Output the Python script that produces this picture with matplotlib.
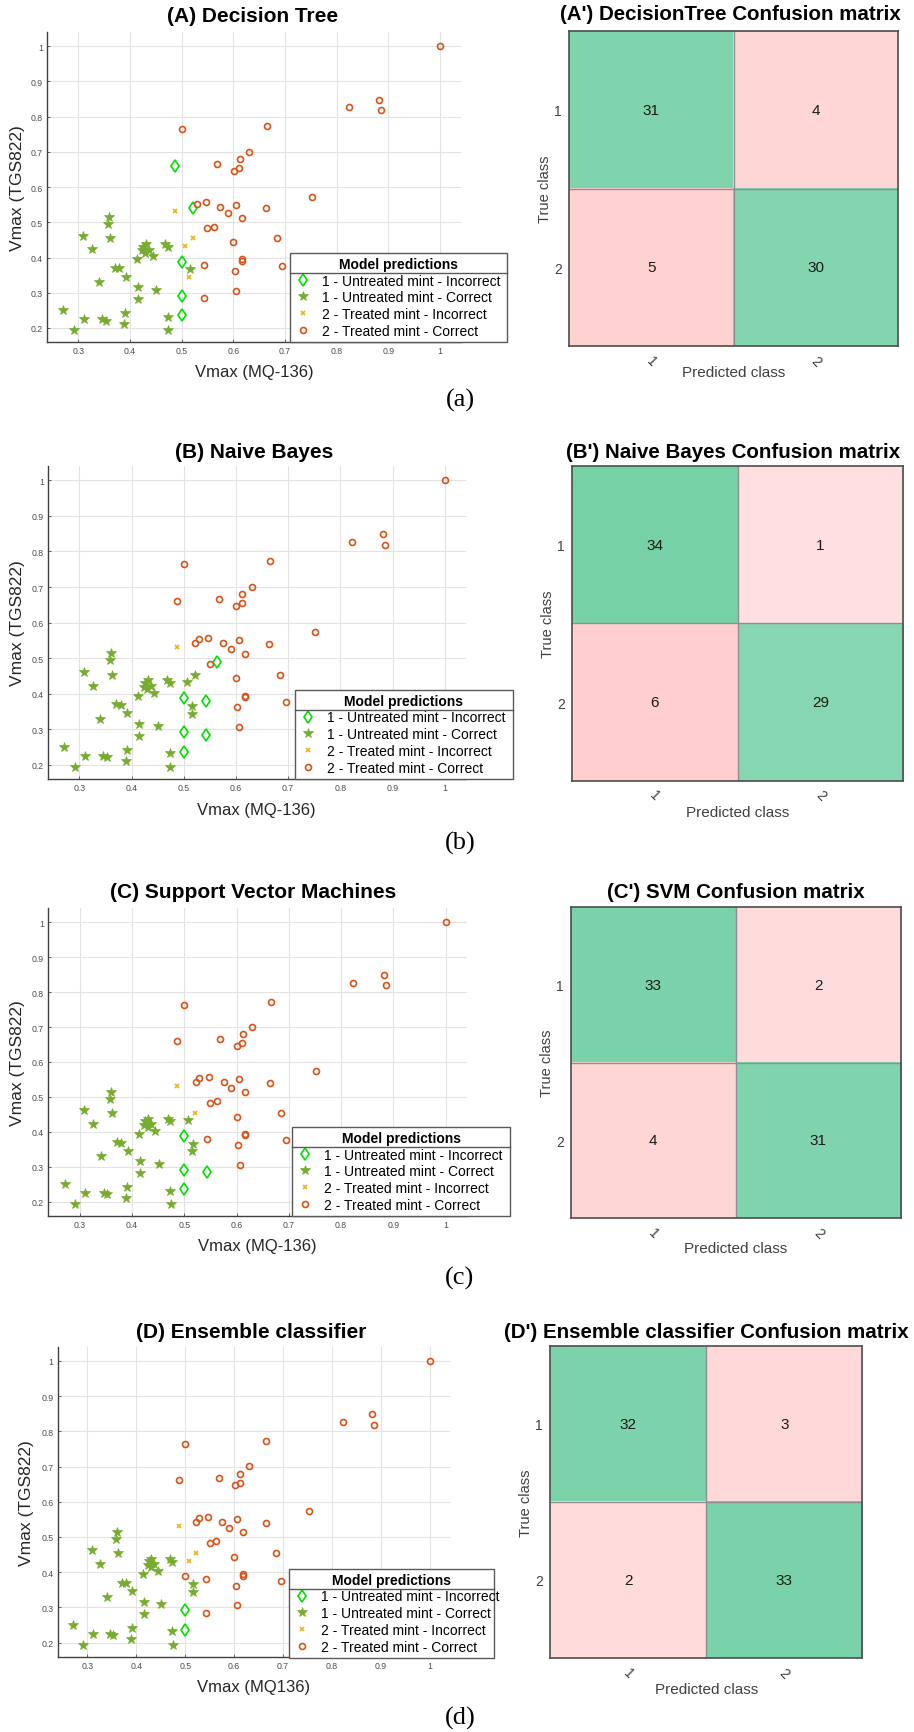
import numpy as np
import matplotlib
matplotlib.use("Agg")
import matplotlib.pyplot as plt
from matplotlib.lines import Line2D
from matplotlib.transforms import IdentityTransform

plt.rcParams['font.family'] = ['Liberation Sans', 'DejaVu Sans']

# ---------------- data ----------------
# class 1 : untreated mint (true class 1)
x_untreated = [0.360, 0.358, 0.362, 0.309, 0.326, 0.425, 0.431, 0.423, 0.430, 0.437,
               0.444, 0.413, 0.468, 0.473, 0.371, 0.379, 0.392, 0.340, 0.415, 0.451,
               0.415, 0.516, 0.271, 0.311, 0.346, 0.353, 0.391, 0.389, 0.291, 0.473,
               0.474, 0.487, 0.521, 0.507, 0.515]
y_untreated = [0.514, 0.494, 0.454, 0.462, 0.423, 0.431, 0.438, 0.420, 0.414, 0.422,
               0.403, 0.395, 0.438, 0.430, 0.370, 0.369, 0.345, 0.330, 0.316, 0.309,
               0.281, 0.366, 0.250, 0.224, 0.224, 0.221, 0.241, 0.211, 0.194, 0.232,
               0.193, 0.531, 0.454, 0.433, 0.344]
# class 2 : treated mint (true class 2)
x_treated = [1.000, 0.881, 0.823, 0.886, 0.665, 0.500, 0.630, 0.568, 0.612, 0.601,
             0.611, 0.752, 0.529, 0.547, 0.575, 0.605, 0.664, 0.590, 0.617, 0.550,
             0.563, 0.600, 0.685, 0.617, 0.617, 0.543, 0.695, 0.603, 0.606, 0.543,
             0.487, 0.522, 0.500, 0.500, 0.500]
y_treated = [1.000, 0.848, 0.827, 0.819, 0.773, 0.764, 0.701, 0.667, 0.680, 0.647,
             0.654, 0.573, 0.553, 0.558, 0.543, 0.550, 0.540, 0.526, 0.513, 0.484,
             0.488, 0.443, 0.454, 0.395, 0.390, 0.380, 0.376, 0.362, 0.306, 0.285,
             0.661, 0.542, 0.388, 0.292, 0.236]

# misclassified points (1-based point numbers in the lists above)
dt_untreated_wrong = [32, 33, 34, 35]
dt_treated_wrong = [31, 32, 33, 34, 35]
nb_untreated_wrong = [32]
nb_treated_wrong = [21, 26, 30, 33, 34, 35]
svm_untreated_wrong = [32, 33]
svm_treated_wrong = [30, 33, 34, 35]
ens_untreated_wrong = [32, 33, 34]
ens_treated_wrong = [34, 35]

# confusion matrices  (rows: true class 1,2 ; cols: predicted class 1,2)
cm_dt = [[31, 4], [5, 30]]
cm_nb = [[34, 1], [6, 29]]
cm_svm = [[33, 2], [4, 31]]
cm_ens = [[32, 3], [2, 33]]
class_labels = ['1', '2']

x_ticks = [0.3, 0.4, 0.5, 0.6, 0.7, 0.8, 0.9, 1.0]
x_tick_labels = ['0.3', '0.4', '0.5', '0.6', '0.7', '0.8', '0.9', '1']
y_ticks = [0.2, 0.3, 0.4, 0.5, 0.6, 0.7, 0.8, 0.9, 1.0]
y_tick_labels = ['0.2', '0.3', '0.4', '0.5', '0.6', '0.7', '0.8', '0.9', '1']

legend_labels = ['1 - Untreated mint - Incorrect', '1 - Untreated mint - Correct',
                 '2 - Treated mint - Incorrect', '2 - Treated mint - Correct']

# ---------------- figure ----------------
W, H = 914, 1733
fig = plt.figure(figsize=(W / 100, H / 100), dpi=100)


def add_ax(l, t, r, b):
    return fig.add_axes([l / W, 1 - b / H, (r - l) / W, (b - t) / H])


C_STAR = '#77AC30'
C_DIAM = '#00e000'
C_X = '#EDB120'
C_CIRC = '#D95319'

legends = []


def scatter_panel(pos, u_wrong, t_wrong, title, tcx, ty, xlabel, ylab_x, legbox):
    l, t, r, b = pos
    ax = add_ax(l, t, r, b)
    ax.set_xlim(0.24, 1.04)
    ax.set_ylim(0.16, 1.04)
    ax.set_xticks(x_ticks)
    ax.set_xticklabels(x_tick_labels)
    ax.set_yticks(y_ticks)
    ax.set_yticklabels(y_tick_labels)
    ax.tick_params(labelsize=6.3, colors='#4d4d4d', direction='in', length=2, width=0.6, pad=3)
    ax.grid(True, color='#e3e3e3', lw=0.8)
    ax.set_axisbelow(True)
    for s in ['top', 'right']:
        ax.spines[s].set_visible(False)
    for s in ['left', 'bottom']:
        ax.spines[s].set_color('#404040')
        ax.spines[s].set_linewidth(1.0)

    xu = np.array(x_untreated); yu = np.array(y_untreated)
    xt = np.array(x_treated); yt = np.array(y_treated)
    uw = np.zeros(len(xu), bool); uw[np.array(u_wrong) - 1] = True
    tw = np.zeros(len(xt), bool); tw[np.array(t_wrong) - 1] = True

    ax.plot(xt[tw], yt[tw], ls='none', marker='d', ms=6, mfc='none', mec=C_DIAM, mew=1.2)
    ax.plot(xu[~uw], yu[~uw], ls='none', marker='*', ms=7, mfc=C_STAR, mec=C_STAR, mew=0.5)
    ax.plot(xu[uw], yu[uw], ls='none', marker='x', ms=3.5, mec=C_X, mew=1.2)
    ax.plot(xt[~tw], yt[~tw], ls='none', marker='o', ms=4.3, mfc='none', mec=C_CIRC, mew=1.2)

    fig.text(tcx / W, 1 - ty / H, title, ha='center', va='center', fontsize=15, fontweight='bold')
    fig.text((l + r) / 2 / W, 1 - (b + 30) / H, xlabel, ha='center', va='center', fontsize=12,
             color='#262626')
    fig.text(ylab_x / W, 1 - (t + b) / 2 / H, 'Vmax (TGS822)', ha='center', va='center',
             rotation=90, fontsize=12.5, color='#262626')

    handles = [
        Line2D([], [], ls='none', marker='d', ms=6, mfc='none', mec=C_DIAM, mew=1.2),
        Line2D([], [], ls='none', marker='*', ms=7, mfc=C_STAR, mec=C_STAR, mew=0.5),
        Line2D([], [], ls='none', marker='x', ms=3.5, mec=C_X, mew=1.2),
        Line2D([], [], ls='none', marker='o', ms=4.3, mfc='none', mec=C_CIRC, mew=1.2),
    ]
    ll, lt, lr, lb = legbox
    leg = ax.legend(handles, legend_labels, title='Model predictions',
                    title_fontproperties={'weight': 'bold', 'size': 10},
                    fontsize=10, loc='lower left',
                    bbox_to_anchor=(ll / W, 1 - lb / H, (lr - ll) / W, (lb - lt) / H),
                    bbox_transform=fig.transFigure, mode='expand', borderaxespad=0,
                    fancybox=False, framealpha=1, edgecolor='#5a5a5a',
                    borderpad=0.3, labelspacing=0.2, handletextpad=0.7,
                    handlelength=1.3, alignment='center')
    leg.get_frame().set_linewidth(1.0)
    legends.append(leg)
    return ax


G_BASE = np.array([30, 180, 110]) / 255.0
P_BASE = np.array([255, 150, 150]) / 255.0


def cm_panel(pos, cm, title, tcx, ty, xlab_dy):
    l, t, r, b = pos
    ax = add_ax(l, t, r, b)
    cm = np.array(cm)
    rgb = np.ones((2, 2, 3))
    for i in range(2):
        for j in range(2):
            v = cm[i, j]
            if i == j:
                k = 0.13 + 0.014 * v
                rgb[i, j] = 1 - k * (1 - G_BASE)
            else:
                k = 0.27 + 0.03 * v
                rgb[i, j] = 1 - k * (1 - P_BASE)
    ax.imshow(rgb, extent=(0.5, 2.5, 2.5, 0.5), aspect='auto', interpolation='nearest')
    ax.set_xlim(0.5, 2.5)
    ax.set_ylim(2.5, 0.5)
    ax.axhline(1.5, color='#8f8f8f', lw=1.0)
    ax.axvline(1.5, color='#8f8f8f', lw=1.0)
    for i in range(2):
        for j in range(2):
            ax.text(j + 1, i + 1, str(cm[i, j]), ha='center', va='center', fontsize=11,
                    color='#1a1a1a')
    ax.set_xticks([1, 2])
    ax.set_xticklabels(class_labels, rotation=-45)
    ax.set_yticks([1, 2])
    ax.set_yticklabels(class_labels)
    ax.tick_params(length=0, labelsize=10, colors='#404040', pad=5)
    for s in ax.spines.values():
        s.set_color('#4d4d4d')
        s.set_linewidth(1.2)
    fig.text(tcx / W, 1 - ty / H, title, ha='center', va='center', fontsize=14.8, fontweight='bold')
    fig.text((l + r) / 2 / W, 1 - (b + xlab_dy) / H, 'Predicted class', ha='center', va='center',
             fontsize=11, color='#404040')
    fig.text((l - 24) / W, 1 - (t + b) / 2 / H, 'True class', ha='center', va='center',
             rotation=90, fontsize=10.5, color='#404040')
    return ax


# ---- row (a)
scatter_panel((47.3, 33.2, 460.7, 343.0), dt_untreated_wrong, dt_treated_wrong,
              '(A) Decision Tree', 253, 17, 'Vmax (MQ-136)', 18, (290, 251, 507, 343))
cm_panel((569, 32, 898, 347), cm_dt, "(A') DecisionTree Confusion matrix", 730, 15, 26)

# ---- row (b)
scatter_panel((48.0, 467.1, 465.6, 780.1), nb_untreated_wrong, nb_treated_wrong,
              '(B) Naive Bayes', 254, 453, 'Vmax (MQ-136)', 18, (295, 688, 513, 780))
cm_panel((571.7, 467.3, 903.3, 781.7), cm_nb, "(B') Naive Bayes Confusion matrix", 733, 453, 31)

# ---- row (c)
scatter_panel((48.3, 909.3, 466.7, 1216.7), svm_untreated_wrong, svm_treated_wrong,
              '(C) Support Vector Machines', 253, 893, 'Vmax (MQ-136)', 18, (292, 1126, 510, 1217))
cm_panel((570.7, 908.3, 901, 1219), cm_svm, "(C') SVM Confusion matrix", 736, 893, 30)

# ---- row (d)
scatter_panel((57.9, 1347.9, 449.7, 1657.6), ens_untreated_wrong, ens_treated_wrong,
              '(D) Ensemble classifier', 251, 1333, 'Vmax (MQ136)', 27, (289, 1567, 494, 1659))
cm_panel((550, 1346.7, 862.3, 1659), cm_ens, "(D') Ensemble classifier Confusion matrix", 706, 1333, 31)

# captions
for cap, cy in [('(a)', 400), ('(b)', 843), ('(c)', 1278), ('(d)', 1718)]:
    fig.text(460 / W, 1 - cy / H, cap, ha='center', va='center', fontsize=19,
             family=['Liberation Serif', 'DejaVu Serif'])

# separator lines under legend titles
fig.canvas.draw()
renderer = fig.canvas.get_renderer()
for leg in legends:
    fb = leg.get_frame().get_window_extent(renderer)
    tb = leg.get_title().get_window_extent(renderer)
    y = tb.y0 - 2
    fig.add_artist(Line2D([fb.x0, fb.x1], [y, y], transform=IdentityTransform(),
                          color='#5a5a5a', lw=1.0))

fig.savefig('out.png', dpi=100)
